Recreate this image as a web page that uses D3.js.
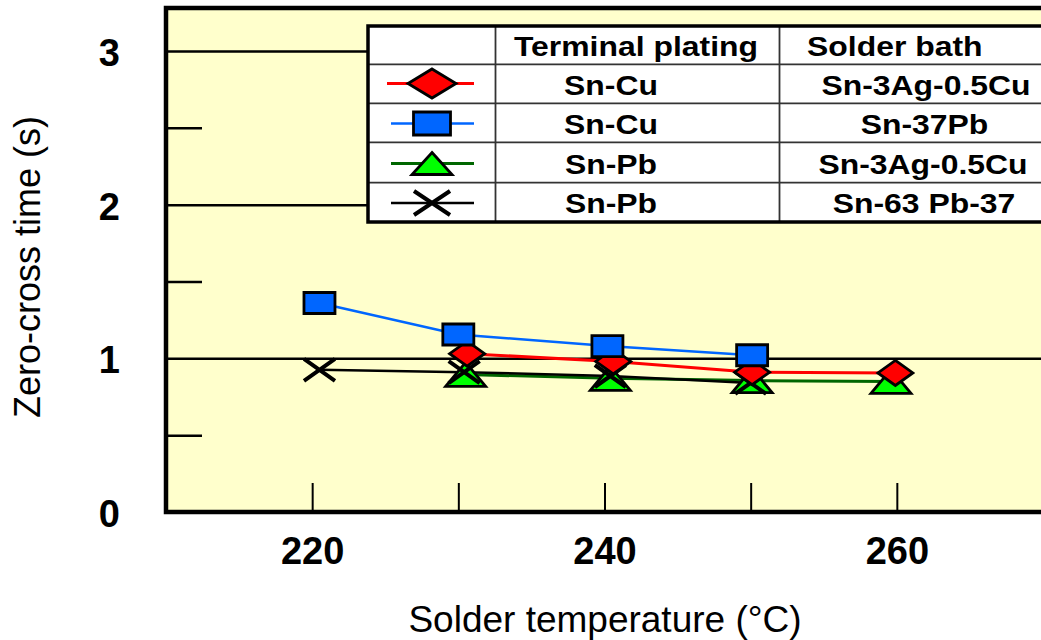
<!DOCTYPE html>
<html><head><meta charset="utf-8">
<script src="https://cdn.jsdelivr.net/npm/d3@7"></script>
<style>
html,body{margin:0;padding:0;background:#fff;}
svg{display:block;}
text{font-family:"Liberation Sans",Arial,Helvetica,sans-serif;}
</style></head>
<body>
<svg id="chart" width="1041" height="640"></svg>
<script>
// ---- data ----
const xTickValues = [220, 230, 240, 250, 260];
const xTickLabels = [220, 240, 260];
const yTickLabels = [0, 1, 2, 3];
const yGridValues = [1, 2, 3];
const yMinorValues = [0.5, 1.5, 2.5];

const platingLabels = ["Sn-Cu", "Sn-Cu", "Sn-Pb", "Sn-Pb"];
const bathLabels = ["Sn-3Ag-0.5Cu", "Sn-37Pb", "Sn-3Ag-0.5Cu", "Sn-63 Pb-37"];
const headerLabels = ["Terminal plating", "Solder bath"];

const redTemp   = [230.6, 240.6, 250.1, 259.9];
const redTime   = [1.03, 0.98, 0.91, 0.905];
const blueTemp  = [220.5, 230.0, 240.2, 250.1];
const blueTime  = [1.36, 1.155, 1.08, 1.02];
const greenTemp = [230.5, 240.4, 250.1, 259.6];
const greenTime = [0.895, 0.87, 0.855, 0.85];
const blackTemp = [220.5, 230.4, 240.4, 250.0];
const blackTime = [0.925, 0.91, 0.885, 0.84];

const xTitle = "Solder temperature (\u00B0C)";
const yTitle = "Zero-cross time (s)";

// ---- layout ----
const W = 1041, H = 640;
const left = 166, bottom = 512;
const svg = d3.select("#chart");
const x = d3.scaleLinear().domain([210, 270]).range([left, 1043]);
const y = d3.scaleLinear().domain([0, 3]).range([bottom, 51]);
const yTop = y(3.28);

// plot background
svg.append("rect").attr("x", left).attr("y", yTop)
  .attr("width", 1060 - left).attr("height", bottom - yTop)
  .attr("fill", "#FFFFCC").attr("stroke", "none");

// gridlines
const grid = svg.append("g").attr("transform", `translate(${left},0)`)
  .call(d3.axisRight(y).tickValues(yGridValues).tickSize(W - left).tickFormat(""));
grid.select(".domain").remove();
grid.selectAll("line").attr("stroke", "#000").attr("stroke-width", 2.5);

// minor y ticks
const minor = svg.append("g").attr("transform", `translate(${left},0)`)
  .call(d3.axisRight(y).tickValues(yMinorValues).tickSize(36).tickFormat(""));
minor.select(".domain").remove();
minor.selectAll("line").attr("stroke", "#000").attr("stroke-width", 2.5);

// x ticks (inward)
const xt = svg.append("g").attr("transform", `translate(0,${bottom})`)
  .call(d3.axisTop(x).tickValues(xTickValues).tickSize(29).tickFormat(""));
xt.select(".domain").remove();
xt.selectAll("line").attr("stroke", "#000").attr("stroke-width", 2);

// frame
svg.append("path")
  .attr("d", `M1060,${yTop}H${left}V${bottom}H1060`)
  .attr("fill", "none").attr("stroke", "#000").attr("stroke-width", 4.5);

// y tick labels
const yl = svg.append("g").attr("transform", `translate(${left},0)`)
  .call(d3.axisLeft(y).tickValues(yTickLabels).tickSize(0).tickPadding(46).tickFormat(d3.format("d")));
yl.select(".domain").remove();
yl.selectAll("text").attr("font-size", 38).attr("font-weight", "bold")
  .attr("fill", "#000").attr("dy", "0.38em")
  .style("font-family", '"Liberation Sans",Arial,sans-serif');

// x tick labels
const xl = svg.append("g").attr("transform", `translate(0,${bottom})`)
  .call(d3.axisBottom(x).tickValues(xTickLabels).tickSize(0).tickPadding(25).tickFormat(d3.format("d")));
xl.select(".domain").remove();
xl.selectAll("text").attr("font-size", 38).attr("font-weight", "bold")
  .attr("fill", "#000").attr("dy", "0.71em")
  .style("font-family", '"Liberation Sans",Arial,sans-serif');

// axis titles
svg.append("text").attr("x", 605).attr("y", 632).attr("text-anchor", "middle")
  .attr("font-size", 37).attr("fill", "#000").text(xTitle);
svg.append("text").attr("transform", "translate(40,267) rotate(-90)")
  .attr("text-anchor", "middle").attr("font-size", 36).attr("fill", "#000").text(yTitle);

// ---- marker shapes ----
function diamond(w, h) { return `M0,${-h/2}L${w/2},0L0,${h/2}L${-w/2},0Z`; }
function rectShape(w, h) { return `M${-w/2},${-h/2}H${w/2}V${h/2}H${-w/2}Z`; }
function tri(w, h) { return `M0,${-h/2}L${w/2},${h/2}H${-w/2}Z`; }
function cross(w, h) { return `M${-w/2},${-h/2}L${w/2},${h/2}M${w/2},${-h/2}L${-w/2},${h/2}`; }

const series = [
  {temp: greenTemp, time: greenTime, line: "#006600", lw: 3, fill: "#00FF00", shape: tri(40, 24), lshape: tri(40, 22), cross: false},
  {temp: blackTemp, time: blackTime, line: "#000000", lw: 2.5, fill: "none", shape: cross(31, 22), lshape: cross(36, 24), cross: true},
  {temp: redTemp, time: redTime, line: "#FF0000", lw: 3, fill: "#FF0000", shape: diamond(35, 25), lshape: diamond(48, 29), cross: false},
  {temp: blueTemp, time: blueTime, line: "#0066FF", lw: 2.5, fill: "#0066FF", shape: rectShape(31, 21), lshape: rectShape(37, 23), cross: false}
];

const lineGen = d3.line().x(d => x(d[0])).y(d => y(d[1]));
series.forEach(s => {
  const pts = s.temp.map((t, i) => [t, s.time[i]]);
  svg.append("path").datum(pts).attr("d", lineGen)
    .attr("fill", "none").attr("stroke", s.line).attr("stroke-width", s.lw);
});
series.forEach(s => {
  const pts = s.temp.map((t, i) => [t, s.time[i]]);
  svg.append("g").selectAll("path").data(pts).join("path")
    .attr("transform", d => `translate(${x(d[0])},${y(d[1])})`)
    .attr("d", s.shape)
    .attr("fill", s.cross ? "none" : s.fill)
    .attr("stroke", "#000")
    .attr("stroke-width", s.cross ? 4 : 2.8)
    .attr("stroke-linejoin", "miter");
});

// ---- legend table ----
const lg = svg.append("g");
const L = {x0: 368, y0: 26, c1: 495.5, c2: 779.5, rows: [26, 64.3, 103.3, 142.3, 182.7, 222]};
lg.append("rect").attr("x", L.x0).attr("y", L.y0).attr("width", 1060 - L.x0)
  .attr("height", L.rows[5] - L.y0).attr("fill", "#fff");
[L.rows[1], L.rows[2], L.rows[3], L.rows[4]].forEach(ry => {
  lg.append("line").attr("x1", L.x0).attr("x2", 1060).attr("y1", ry).attr("y2", ry)
    .attr("stroke", "#333").attr("stroke-width", 1.8);
});
[L.c1, L.c2].forEach(cx => {
  lg.append("line").attr("x1", cx).attr("x2", cx).attr("y1", L.y0).attr("y2", L.rows[5])
    .attr("stroke", "#333").attr("stroke-width", 1.8);
});
lg.append("rect").attr("x", L.x0).attr("y", L.y0).attr("width", 1060 - L.x0)
  .attr("height", L.rows[5] - L.y0).attr("fill", "none").attr("stroke", "#000").attr("stroke-width", 3.5);

function ltext(txt, px, py, anchor) {
  lg.append("text").attr("transform", `translate(${px},${py}) scale(1.12,1)`)
    .attr("text-anchor", anchor).attr("font-size", 28.5).attr("font-weight", "bold")
    .attr("fill", "#000").text(txt);
}
ltext(headerLabels[0], 636, 56, "middle");
ltext(headerLabels[1], 807, 56, "start");

const legendOrder = [2, 3, 0, 1]; // red, blue, green, black
const bathCenters = [926, 924.5, 923, 924];
const lineY = [83.5, 123.5, 163.5, 203];
legendOrder.forEach((si, r) => {
  const s = series[si];
  const ry = (L.rows[r + 1] + L.rows[r + 2]) / 2;
  lg.append("line").attr("x1", si === 2 ? 387 : 391).attr("x2", 474)
    .attr("y1", lineY[r]).attr("y2", lineY[r])
    .attr("stroke", s.line).attr("stroke-width", s.lw);
  lg.append("path").attr("transform", `translate(432,${lineY[r]})`)
    .attr("d", s.lshape).attr("fill", s.cross ? "none" : s.fill)
    .attr("stroke", "#000").attr("stroke-width", s.cross ? 4 : 2.8);
  ltext(platingLabels[r], 611, ry + 11, "middle");
  ltext(bathLabels[r], bathCenters[r], ry + 11, "middle");
});
</script>
</body></html>
